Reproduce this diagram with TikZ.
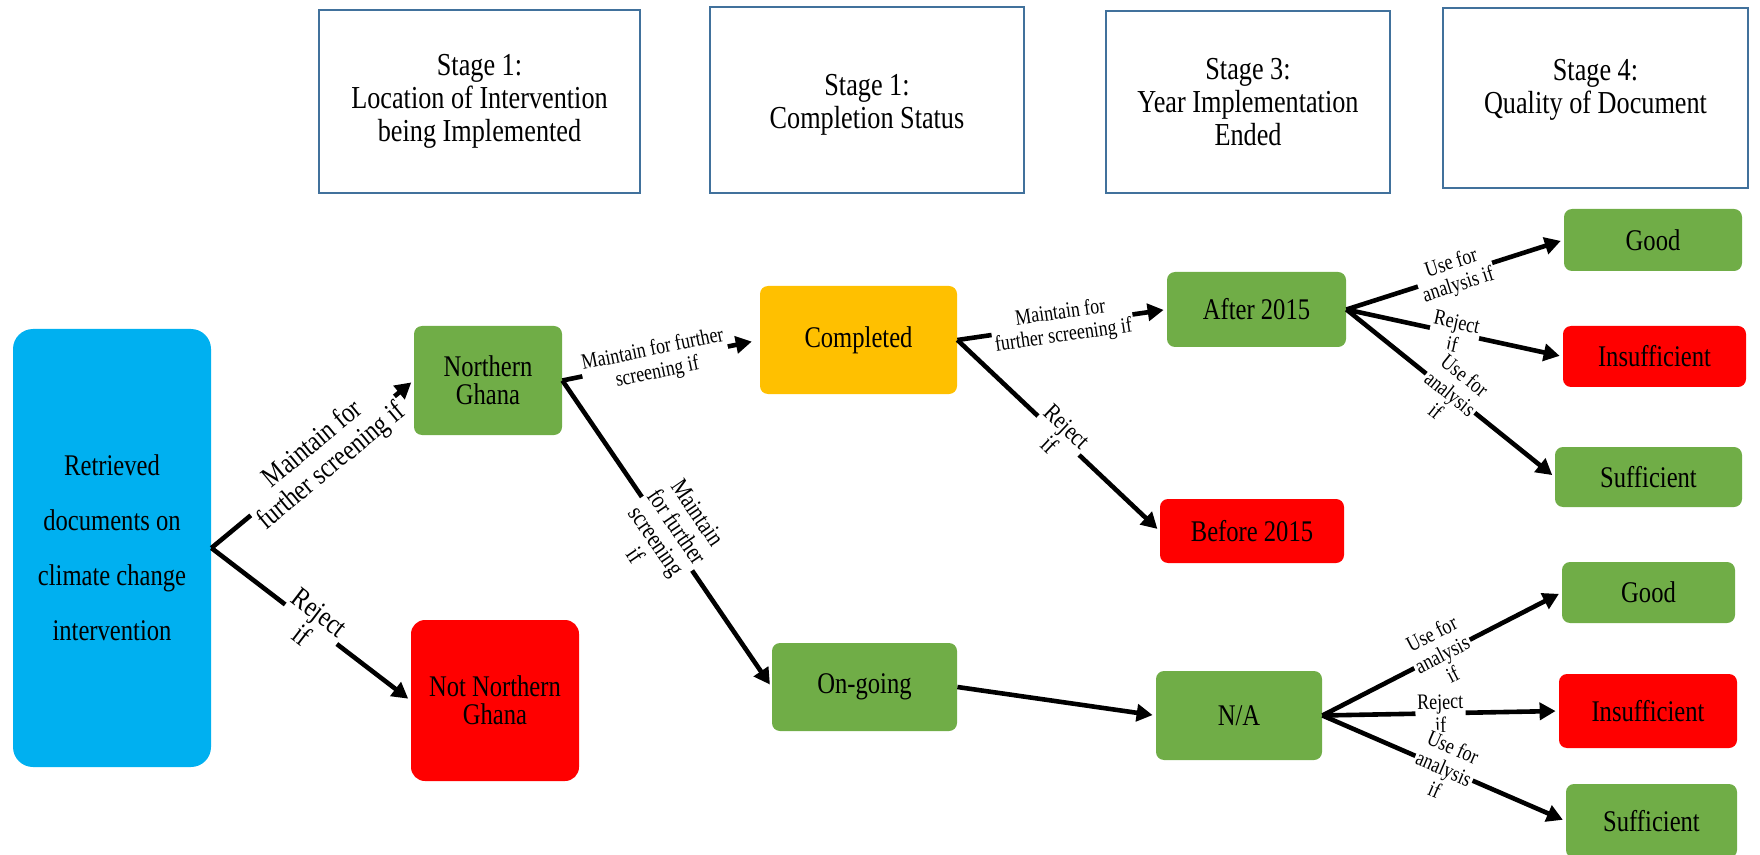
\documentclass[tikz,border=0pt]{standalone}
\usepackage{fontspec}
\setmainfont{Liberation Serif}[FakeStretch=0.82]
\usetikzlibrary{arrows.meta}
\definecolor{skyblue}{HTML}{00B0F0}
\definecolor{leaf}{HTML}{70AD47}
\definecolor{alarm}{HTML}{FF0000}
\definecolor{amber}{HTML}{FFC000}
\definecolor{frame}{HTML}{41719C}

\begin{document}
\begin{tikzpicture}[x=0.5pt,y=-0.5pt,
  stage/.style={draw=frame, line width=1.4pt, fill=white, align=center,
    font=\fontsize{16}{16.5}\selectfont},
  box/.style={rounded corners=4pt, align=center, inner sep=2pt,
    font=\fontsize{15}{14}\selectfont},
  keep/.style={box, fill=leaf},
  drop/.style={box, fill=alarm},
  flow/.style={line width=2.3pt, -{Triangle[length=8pt,width=8.5pt]}, shorten >=1.5pt},
  lbl/.style={fill=white, inner sep=1pt, align=center, sloped, pos=0.5,
    font=\fontsize{11}{11.5}\selectfont},
  biglbl/.style={lbl, font=\fontsize{14.5}{14.5}\selectfont},
  midlbl/.style={lbl, font=\fontsize{12.5}{12.5}\selectfont}
]
\useasboundingbox (0,0) rectangle (1760,855);

% stage headers
\node[stage, minimum width=160.5pt, minimum height=91.5pt] (st1) at (479.5,101.5)
  {Stage 1:\\Location of Intervention\\being Implemented};
\node[stage, minimum width=157pt, minimum height=93pt] (st2) at (867,100) {};
\node[align=center, font=\fontsize{16}{16.5}\selectfont] (st2t) at (867,105)
  {Stage 1:\\Completion Status};
\node[stage, minimum width=142pt, minimum height=91pt] (st3) at (1248,102)
  {Stage 3:\\Year Implementation\\Ended};
\node[stage, minimum width=152.5pt, minimum height=90pt] (st4) at (1595.5,98) {};
\node[align=center, font=\fontsize{16}{16.5}\selectfont] (st4t) at (1595.5,90)
  {Stage 4:\\Quality of Document};

% screening tree
\node[box, fill=skyblue, rounded corners=10pt, minimum width=99pt, minimum height=219pt,
  font=\fontsize{15}{27.5}\selectfont] (ret) at (112,548)
  {Retrieved\\documents on\\climate change\\intervention};
\node[keep, minimum width=74pt, minimum height=54.5pt] (ng) at (488,380.5) {Northern\\Ghana};
\node[drop, rounded corners=7pt, minimum width=84pt, minimum height=80.5pt] (nng) at (495,700.5)
  {Not Northern\\Ghana};
\node[box, fill=amber, minimum width=98.5pt, minimum height=54pt] (comp) at (858.5,340) {Completed};
\node[keep, minimum width=92.5pt, minimum height=44pt] (ongo) at (864.5,687) {On-going};
\node[keep, minimum width=89.5pt, minimum height=37.5pt] (aft) at (1256.5,309.5) {After 2015};
\node[drop, minimum width=92pt, minimum height=32pt] (bef) at (1252,531) {Before 2015};
\node[keep, minimum width=83pt, minimum height=44.5pt] (na) at (1239,715.5) {N/A};

\node[keep, minimum width=89pt, minimum height=31pt] (g1) at (1653,240) {Good};
\node[drop, minimum width=91.5pt, minimum height=30.5pt] (i1) at (1654.5,356.5) {Insufficient};
\node[keep, minimum width=93.5pt, minimum height=30pt] (s1) at (1648.5,477) {Sufficient};
\node[keep, minimum width=86.5pt, minimum height=30.5pt] (g2) at (1648.5,592.5) {Good};
\node[drop, minimum width=89pt, minimum height=37pt] (i2) at (1648,711) {Insufficient};
\node[keep, minimum width=85.5pt, minimum height=37pt] (s2) at (1651.5,821) {Sufficient};

% connectors
\draw[flow] (ret.east) -- node[biglbl, pos=0.55] {Maintain for\\further screening if} (ng.west);
\draw[flow] (ret.east) -- node[biglbl] {Reject\\if} (nng.west);
\draw[flow, shorten >=4pt] (ng.east) -- node[lbl, pos=0.47] {Maintain for further\\screening if} (comp.west);
\draw[flow] (ng.east) -- node[midlbl] {Maintain\\for further\\screening\\if} (ongo.west);
\draw[flow] (comp.east) -- node[lbl] {Maintain for\\further screening if} (aft.west);
\draw[flow] (comp.east) -- node[midlbl] {Reject\\if} (bef.west);
\draw[flow] (ongo.east) -- (na.west);

\draw[flow] (aft.east) -- node[lbl] {Use for\\analysis if} (g1.west);
\draw[flow] (aft.east) -- node[lbl] {Reject\\if} (i1.west);
\draw[flow] (aft.east) -- node[lbl] {Use for\\analysis\\if} (s1.west);

\draw[flow] (na.east) -- node[lbl] {Use for\\analysis\\if} (g2.west);
\draw[flow] (na.east) -- node[lbl] {Reject\\if} (i2.west);
\draw[flow] (na.east) -- node[lbl] {Use for\\analysis\\if} (s2.west);
\end{tikzpicture}
\end{document}
